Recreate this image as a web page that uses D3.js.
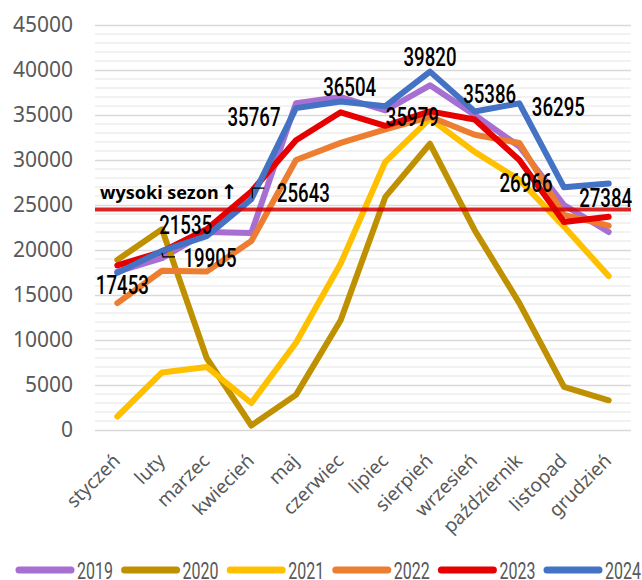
<!DOCTYPE html>
<html>
<head>
<meta charset="utf-8">
<script src="https://cdn.jsdelivr.net/npm/d3@7"></script>
<style>
  body { margin: 0; background: #fff; }
</style>
</head>
<body>
<div id="container"></div>
<script>
// month names and years
const months = ["styczeń","luty","marzec","kwiecień","maj","czerwiec","lipiec","sierpień","wrzesień","październik","listopad","grudzień"]
const years = ["2019","2020","2021","2022","2023","2024"]
const colors = ["#a66fd1","#bf9000","#ffc000","#ed7d31","#e60000","#4472c4"]

// values per year
const v2019 = [17600, 19100, 22000, 21900, 36300, 37000, 35500, 38300, 35000, 31500, 25000, 22000]
const v2020 = [18900, 22300, 8000, 500, 3900, 12200, 25900, 31800, 22200, 14100, 4800, 3300]
const v2021 = [1500, 6400, 7000, 3000, 9700, 18500, 29800, 34600, 30900, 27800, 22600, 17100]
const v2022 = [14100, 17700, 17600, 21000, 30000, 31900, 33400, 34800, 32800, 31900, 23900, 22700]
const v2023 = [18300, 19800, 22300, 26500, 32200, 35300, 33800, 35400, 34500, 30000, 23100, 23700]
const v2024 = [17453, 19905, 21535, 25643, 35767, 36504, 35979, 39820, 35386, 36295, 26966, 27384]
const yTicks = [0, 5000, 10000, 15000, 20000, 25000, 30000, 35000, 40000, 45000]
const seasonLevel = 24500
const seasonText = "wysoki sezon"

// where the 2024 value labels sit relative to their point
const labelOffsets = [[5,12],[48,7],[-21,-11],[52,-6],[-42,9],[9,-14],[27,11],[0,-15],[15,-18],[39,4],[-38,-4],[-3,14]]

const series = [v2019, v2020, v2021, v2022, v2023, v2024]

const W = 642, H = 580
const margin = {top: 25, right: 11, bottom: 150, left: 95},
    width = W - margin.left - margin.right,
    height = H - margin.top - margin.bottom

const svg = d3.select("#container")
  .append("svg")
    .attr("width", W)
    .attr("height", H)
    .style("font-family", "'Noto Sans', sans-serif")

const defs = svg.append("defs")
defs.append("filter").attr("id", "glow")
    .attr("x", "-5%").attr("y", "-300%").attr("width", "110%").attr("height", "700%")
  .append("feGaussianBlur").attr("stdDeviation", 2)

const g = svg.append("g")
    .attr("transform", `translate(${margin.left},${margin.top})`)

const x = d3.scaleBand()
  .domain(months)
  .range([0, width])
const cx = d => x(d) + x.bandwidth() / 2

const y = d3.scaleLinear()
  .domain([0, 45000])
  .range([height, 0])

// minor grid every 1000
g.append("g")
  .selectAll("line")
  .data(d3.range(1000, 45001, 1000).filter(d => d % 5000 != 0))
  .join("line")
    .attr("x1", 0).attr("x2", width)
    .attr("y1", d => y(d)).attr("y2", d => y(d))
    .attr("stroke", "#eeeeee")
    .attr("stroke-width", 1.5)

// major grid + y labels
const yAxis = g.append("g")
  .call(d3.axisLeft(y).tickValues(yTicks).tickSize(-width).tickPadding(22).tickFormat(d3.format("d")))
yAxis.select(".domain").remove()
yAxis.selectAll(".tick line").attr("stroke", "#d9d9d9").attr("stroke-width", 1.5)
yAxis.selectAll(".tick text")
  .attr("fill", "#595959")
  .style("font-size", "21px")
  .style("font-family", "'Noto Sans', sans-serif")

// x labels
g.append("g")
  .selectAll("text")
  .data(months)
  .join("text")
    .attr("transform", d => `translate(${cx(d) + 4},${height + 32}) rotate(-45)`)
    .attr("text-anchor", "end")
    .attr("fill", "#595959")
    .style("font-size", "19px")
    .text(d => d)

// lines
const line = d3.line()
  .x((d, i) => cx(months[i]))
  .y(d => y(d))

g.append("g")
  .selectAll("path")
  .data(series)
  .join("path")
    .attr("d", d => line(d))
    .attr("fill", "none")
    .attr("stroke", (d, i) => colors[i])
    .attr("stroke-width", 6)
    .attr("stroke-linejoin", "round")
    .attr("stroke-linecap", "round")

// high season line
g.append("line")
  .attr("x1", 0).attr("x2", width)
  .attr("y1", y(seasonLevel)).attr("y2", y(seasonLevel))
  .attr("stroke", "#d00000")
  .attr("stroke-width", 9)
  .attr("opacity", 0.6)
  .attr("filter", "url(#glow)")
g.append("line")
  .attr("x1", 0).attr("x2", width)
  .attr("y1", y(seasonLevel)).attr("y2", y(seasonLevel))
  .attr("stroke", "#d40000")
  .attr("stroke-width", 4)
  .attr("opacity", 0.85)

const season = g.append("text")
  .attr("x", 5)
  .attr("y", y(seasonLevel) - 11)
  .attr("fill", "#000")
  .style("font-size", "18px")
  .style("font-weight", "bold")
season.append("tspan").text(seasonText)
season.append("tspan")
  .attr("dx", 2)
  .style("font-family", "'DejaVu Sans', sans-serif")
  .style("font-size", "20px")
  .style("font-weight", "bold")
  .text("↑")

// leader lines for Feb and Apr labels
const leader = d3.line()
const febX = cx(months[1]), febY = y(v2024[1])
g.append("path")
  .attr("d", leader([[febX, febY + 2], [febX + 1, febY + 6], [febX + 13, febY + 6]]))
  .attr("fill", "none").attr("stroke", "#000").attr("stroke-width", 1.2)
const aprX = cx(months[3]), aprY = y(v2024[3])
g.append("path")
  .attr("d", leader([[aprX + 1, aprY - 1], [aprX + 1, aprY - 11], [aprX + 13, aprY - 11]]))
  .attr("fill", "none").attr("stroke", "#000").attr("stroke-width", 1.2)

// value labels for 2024
g.append("g")
  .selectAll("text")
  .data(v2024)
  .join("text")
    .attr("x", (d, i) => cx(months[i]) + labelOffsets[i][0])
    .attr("y", (d, i) => y(d) + labelOffsets[i][1])
    .attr("text-anchor", "middle")
    .attr("dominant-baseline", "central")
    .attr("fill", "#000")
    .attr("textLength", 53)
    .attr("lengthAdjust", "spacingAndGlyphs")
    .style("font-family", "Roboto, sans-serif")
    .style("font-weight", "500")
    .style("font-size", "26px")
    .text(d => d)

// legend
const legend = svg.append("g")
  .attr("transform", "translate(16,570)")
const item = legend.selectAll("g")
  .data(years)
  .join("g")
    .attr("transform", (d, i) => `translate(${i * 105.6},0)`)
item.append("line")
  .attr("x1", 3).attr("x2", 55)
  .attr("stroke", (d, i) => colors[i])
  .attr("stroke-width", 7)
  .attr("stroke-linecap", "round")
item.append("text")
  .attr("x", 61)
  .attr("y", 8.5)
  .attr("fill", "#595959")
  .attr("textLength", 36)
  .attr("lengthAdjust", "spacingAndGlyphs")
  .style("font-family", "Roboto, sans-serif")
  .style("font-size", "24px")
  .text(d => d)
</script>
</body>
</html>
